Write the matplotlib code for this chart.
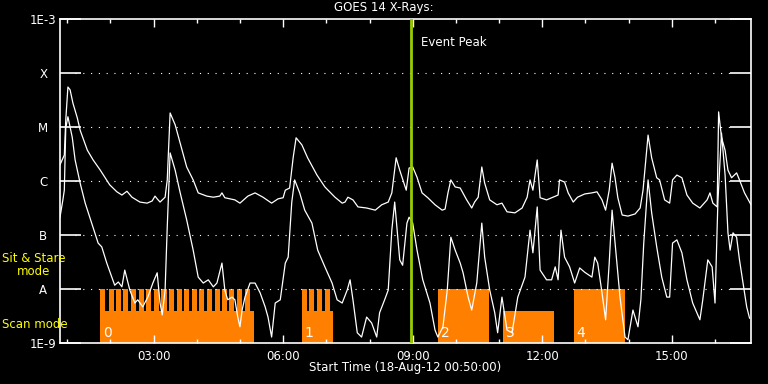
import numpy as np
import matplotlib
matplotlib.use('Agg')
import matplotlib.pyplot as plt

# GOES 14 light curves: minutes after 00:50 UT, log10 flux (W m^-2)
long_t = [0, 6, 8, 11, 14, 18, 24, 28, 38, 46, 56, 69, 79, 86, 93, 100, 111, 121, 128, 132,
          135, 139, 146, 149, 153, 160, 167, 176, 185, 192, 204, 213, 222, 225, 229, 243, 250,
          261, 271, 282, 294, 303, 310, 313, 319, 324, 328, 336, 344, 357, 368, 382, 392, 396,
          400, 407, 414, 426, 438, 447, 456, 461, 467, 472, 481, 485, 490, 496, 503, 511, 521,
          531, 535, 539, 543, 549, 556, 565, 572, 576, 581, 586, 590, 597, 607, 614, 621, 632,
          642, 649, 653, 657, 663, 667, 676, 685, 692, 694, 701, 706, 713, 719, 729, 739, 746,
          753, 758, 763, 767, 771, 775, 781, 789, 799, 806, 810, 817, 822, 829, 833, 840, 847,
          851, 857, 864, 871, 879, 889, 899, 903, 907, 913, 915, 919, 924, 928, 933, 940, 944,
          951, 960]
long_logf = [-5.70, -5.52, -4.87, -4.26, -4.31, -4.56, -4.83, -5.06, -5.43, -5.61, -5.80, -6.07,
             -6.20, -6.26, -6.19, -6.30, -6.39, -6.41, -6.37, -6.28, -6.33, -6.39, -6.30, -5.98,
             -4.74, -4.96, -5.30, -5.74, -5.98, -6.22, -6.28, -6.30, -6.28, -6.22, -6.31, -6.35,
             -6.41, -6.28, -6.22, -6.30, -6.41, -6.33, -6.31, -6.17, -6.13, -5.56, -5.20, -5.33,
             -5.57, -5.89, -6.11, -6.30, -6.41, -6.39, -6.30, -6.35, -6.48, -6.50, -6.54, -6.44,
             -6.39, -6.22, -5.57, -5.80, -6.17, -5.76, -5.74, -5.93, -6.22, -6.31, -6.44, -6.54,
             -6.52, -6.22, -5.98, -6.11, -6.13, -6.35, -6.50, -6.39, -6.30, -5.74, -6.04, -6.35,
             -6.44, -6.41, -6.57, -6.59, -6.50, -6.30, -5.98, -6.17, -5.61, -6.31, -6.35, -6.30,
             -6.26, -5.98, -6.02, -6.22, -6.39, -6.30, -6.24, -6.22, -6.20, -6.35, -6.54, -6.17,
             -5.67, -5.93, -6.31, -6.63, -6.65, -6.61, -6.50, -6.17, -5.15, -5.57, -5.94, -5.98,
             -6.35, -6.41, -5.98, -5.89, -5.94, -6.26, -6.41, -6.50, -6.35, -6.22, -6.41, -6.48,
             -4.72, -5.19, -5.43, -5.80, -5.94, -5.85, -5.98, -6.22, -6.44]

short_t = [0, 4, 6, 8, 11, 17, 21, 28, 35, 44, 53, 58, 65, 72, 76, 81, 86, 90, 97, 104, 108,
           115, 122, 129, 135, 139, 142, 146, 149, 153, 160, 167, 176, 185, 192, 199, 206, 213,
           218, 225, 229, 233, 239, 243, 247, 250, 253, 257, 264, 271, 278, 285, 289, 294, 299,
           306, 313, 317, 322, 326, 333, 340, 350, 358, 368, 378, 385, 392, 399, 403, 407, 413,
           419, 426, 433, 440, 444, 451, 456, 461, 465, 472, 476, 482, 485, 490, 496, 504, 514,
           521, 525, 532, 538, 543, 549, 556, 560, 567, 572, 579, 586, 590, 597, 604, 608, 614,
           621, 628, 636, 646, 653, 657, 663, 667, 676, 683, 688, 692, 696, 701, 708, 715, 722,
           729, 739, 743, 747, 753, 758, 763, 767, 772, 778, 785, 789, 796, 803, 807, 811, 817,
           822, 829, 836, 843, 847, 851, 857, 864, 871, 879, 889, 893, 900, 906, 910, 914, 919,
           924, 928, 931, 935, 940, 944, 949, 954, 958]
short_logf = [-6.67, -6.35, -6.17, -5.02, -4.81, -5.19, -5.61, -6.04, -6.41, -6.78, -7.15, -7.22,
              -7.52, -7.78, -7.93, -7.87, -7.96, -7.65, -8.02, -8.26, -8.20, -8.33, -8.15, -7.89,
              -7.70, -8.26, -8.48, -8.02, -6.85, -5.48, -5.80, -6.22, -6.72, -7.28, -7.78, -7.89,
              -7.83, -7.96, -7.89, -7.52, -8.02, -8.20, -8.15, -8.20, -8.52, -8.70, -8.39, -8.15,
              -7.89, -7.89, -8.07, -8.33, -8.52, -8.89, -8.26, -8.20, -7.52, -7.41, -6.39, -5.98,
              -6.22, -6.54, -6.78, -7.28, -7.59, -7.89, -8.20, -8.26, -8.02, -7.83, -8.20, -8.81,
              -8.89, -8.52, -8.63, -8.89, -8.44, -8.20, -8.02, -6.91, -6.39, -7.46, -7.56, -6.78,
              -6.67, -6.78, -7.28, -7.83, -8.26, -8.76, -8.89, -8.70, -8.02, -7.04, -7.28, -7.52,
              -7.70, -8.15, -8.39, -7.89, -6.78, -7.41, -8.02, -8.44, -8.81, -8.15, -8.76, -8.81,
              -8.15, -7.78, -6.91, -7.33, -6.48, -7.65, -7.83, -7.83, -7.59, -7.83, -6.91, -7.41,
              -7.59, -7.89, -7.61, -7.69, -7.78, -7.41, -7.52, -8.07, -8.57, -7.52, -6.54, -7.28,
              -8.15, -8.89, -8.94, -8.39, -8.70, -8.20, -7.15, -5.98, -6.59, -7.22, -7.78, -8.15,
              -8.15, -7.15, -7.09, -7.33, -7.83, -8.26, -8.57, -8.20, -7.46, -7.59, -8.26, -6.39,
              -5.11, -5.89, -6.96, -7.28, -6.96, -7.04, -7.46, -7.89, -8.33, -8.54]

# IRIS observing blocks (minutes after 00:50)
block_start = [56, 336, 525, 615, 714]
block_end = [269, 379, 596, 686, 785]
block_mode = ['scan', 'scan', 'stare', 'scan', 'stare']
block_label = ['0', '1', '2', '3', '4']
# sit & stare pulses inside the raster blocks
stare_start = [56, 68, 78, 88, 99, 110, 120, 131, 141, 151, 162, 172, 183, 193, 204, 215,
               225, 235, 246, 257, 336, 346, 357, 368]
stare_len = 7
event_peak = 488

level_val = [1e-9, 1e-8, 1e-7, 1e-6, 1e-5, 1e-4, 1e-3]
level_lab = ['1E-9', 'A', 'B', 'C', 'M', 'X', '1E-3']
hour_major = [3, 6, 9, 12, 15]

orange = '#ff8000'
scan_top = 3.9e-9
stare_top = 1e-8
t0 = 50  # 00:50 in minutes of day

fig = plt.figure(figsize=(7.68, 3.84), dpi=100, facecolor='black')
ax = fig.add_axes([60/768, 1-343/384, 691/768, 324/384], facecolor='black')
ax.set_yscale('log')
ax.set_ylim(1e-9, 1e-3)
ax.set_xlim(0, 960)

# blocks
for s, e, m in zip(block_start, block_end, block_mode):
    top = stare_top if m == 'stare' else scan_top
    ax.bar(s, top - 1e-9, width=e - s, bottom=1e-9, align='edge', color=orange, lw=0, zorder=1)
ax.bar(stare_start, stare_top - 1e-9, width=stare_len, bottom=1e-9, align='edge',
       color=orange, lw=0, zorder=1)
for s, lab in zip(block_start, block_label):
    ax.annotate(lab, (s, 1e-9), xytext=(2, 2), textcoords='offset points',
                color='white', fontsize=10, ha='left', va='bottom', zorder=4)

# dotted levels
for lv in level_val[1:-1]:
    ax.axhline(lv, xmin=0.022, xmax=0.978, color='white', lw=0.8, ls=(0, (1, 6)), zorder=2)

ax.plot(long_t, 10**np.array(long_logf), color='white', lw=0.9, zorder=3)
ax.plot(short_t, 10**np.array(short_logf), color='white', lw=0.9, zorder=3)

ax.axvline(event_peak, color='#99cc00', lw=2, zorder=5)
ax.annotate('Event Peak', (event_peak, 3.6e-4), xytext=(7, 0), textcoords='offset points',
            color='white', fontsize=8.5, va='center')

# axes styling
for sp in ax.spines.values():
    sp.set_color('white')
    sp.set_linewidth(1.2)
ax.set_yticks(level_val)
ax.set_yticklabels(level_lab)
ax.yaxis.set_minor_locator(matplotlib.ticker.NullLocator())
ax.tick_params(axis='y', which='major', direction='in', length=15, width=1.2, color='white',
               labelcolor='white', labelsize=8.5, left=True, right=True, pad=12)
for lab in ax.get_yticklabels():
    lab.set_ha('center')
ax.set_xticks([h*60 - t0 for h in hour_major])
ax.set_xticklabels(['%02d:00' % h for h in hour_major])
ax.set_xticks([h*60 - t0 for h in range(1, 17)], minor=True)
ax.tick_params(axis='x', which='major', direction='in', length=6, width=1, color='white',
               labelcolor='white', labelsize=8.5, top=True, bottom=True, pad=5)
ax.tick_params(axis='x', which='minor', direction='in', length=3, width=1, color='white',
               top=True, bottom=True)

fig.text(0.5, 1-8/384, 'GOES 14 X-Rays:', color='white', fontsize=8.5, ha='center', va='center')
fig.text(405/768, 1-368/384, 'Start Time (18-Aug-12 00:50:00)', color='white', fontsize=8.5,
         ha='center', va='center')
fig.text(34/768, 1-265/384, 'Sit & Stare\nmode', color='yellow', fontsize=8.5, ha='center',
         va='center', linespacing=1.0)
fig.text(2/768, 1-324/384, 'Scan mode', color='yellow', fontsize=8.5, ha='left', va='center')

fig.savefig('out.png', dpi=100, facecolor='black')
